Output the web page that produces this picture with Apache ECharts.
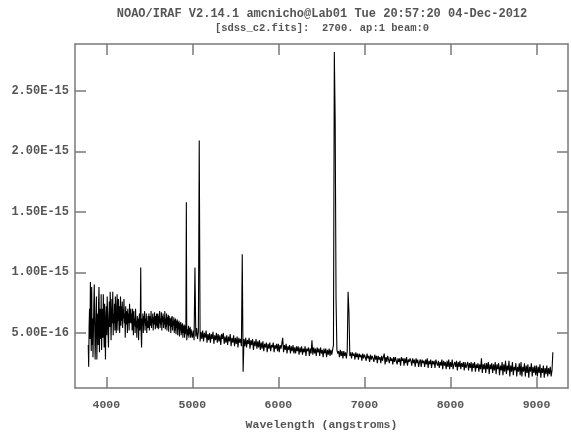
<!DOCTYPE html>
<html>
<head>
<meta charset="utf-8">
<script src="https://cdn.jsdelivr.net/npm/echarts@6/dist/echarts.min.js"></script>
<style>
html,body{margin:0;padding:0;background:#fff;}
#chart{width:571px;height:436px;}
</style>
</head>
<body>
<div id="chart"></div>
<script>
// Title lines
const titleLine1 = 'NOAO/IRAF V2.14.1 amcnicho@Lab01 Tue 20:57:20 04-Dec-2012';
const titleLine2 = '[sdss_c2.fits]:  2700. ap:1 beam:0';
const xAxisTitle = 'Wavelength (angstroms)';

// Blue part of the spectrum: 3790..4985 A, one sample every 5 A (flux in 1E-17 units)
const blueStart = 3790;
const blueStep = 5;
const fluxBlue = [
  40,22,55,70,45,92,60,35,88,40,62,30,50,74,90,58,28,45,66,80,
  28,52,66,40,75,88,34,60,70,45,82,36,55,70,46,82,60,38,74,60,
  28,58,72,48,80,66,50,38,62,76,55,84,70,44,60,78,58,84,48,66,
  58,74,52,80,70,50,60,82,70,52,78,60,72,50,68,80,56,72,60,76,
  54,70,62,78,58,66,46,72,57,68,64,50,70,58,66,52,74,58,62,70,
  58,66,52,70,64,48,68,56,62,50,70,55,60,46,64,54,62,44,58,66,
  52,60,104,48,38,62,56,66,50,64,58,68,52,62,56,66,50,60,54,64,
  54,66,52,60,64,56,68,54,62,58,66,52,63,57,67,61,53,64,56,66,
  54,62,66,53,64,58,68,54,62,57,67,52,64,59,66,54,63,57,68,53,
  62,55,66,52,63,57,65,51,64,56,62,58,50,63,55,64,52,60,56,63,
  50,61,52,62,49,60,54,61,48,59,53,60,47,58,52,59,48,57,50,58,
  46,56,50,57,46,56,49,55,158,44,50,53,48,56,46,54,49,55,46,53
];

// Red part of the spectrum: 4990..9190 A, one sample every 10 A (flux in 1E-17 units)
const redStart = 4990;
const redStep = 10;
const fluxRed = [
  53,46,52,44,104,47,54,45,51,209,43,51,45,52,43,50,46,52,42,49,
  44,50,42,49,45,51,41,48,44,50,42,49,43,48,40,49,45,50,41,47,
  42,48,40,47,43,49,39,46,42,48,39,46,41,47,38,46,42,45,39,115,
  18,45,39,46,38,44,41,46,37,44,40,45,36,43,39,45,37,43,38,44,
  36,42,37,43,35,41,38,42,34,41,37,42,35,40,38,42,34,40,37,41,
  35,41,34,40,37,41,46,34,40,36,41,33,39,36,40,33,39,35,40,33,
  38,33,39,35,39,32,38,34,39,32,37,34,39,31,37,35,38,31,37,33,
  44,32,38,33,37,31,38,34,37,31,38,33,36,30,37,33,37,30,36,32,
  37,31,36,32,36,40,282,225,78,36,33,35,30,36,31,35,29,35,31,34,
  29,35,84,67,31,34,29,34,31,33,28,34,30,33,28,33,30,32,27,33,
  29,32,30,27,33,29,31,26,32,28,31,29,26,32,28,31,25,31,28,30,
  25,31,27,30,33,24,30,26,31,28,25,30,27,29,24,30,26,30,27,24,
  29,26,29,23,30,27,29,23,29,25,30,23,28,26,29,27,23,29,25,28,
  22,29,25,28,22,26,28,22,28,25,27,22,28,24,29,21,27,24,28,21,
  27,24,27,21,28,25,23,27,21,26,23,28,20,27,23,26,20,27,22,28,
  20,26,22,28,20,24,26,22,27,19,26,22,27,20,25,22,26,19,26,21,
  21,26,19,25,21,26,18,25,21,26,18,24,21,25,18,24,20,29,17,24,
  20,25,17,25,20,26,16,24,20,25,17,24,19,26,16,24,20,25,15,23,
  19,26,15,24,18,27,16,23,19,27,14,23,18,26,15,22,19,25,14,22,
  18,25,15,26,14,22,18,25,14,23,17,24,13,22,18,25,14,22,17,23,
  15,23,14,22,17,24,13,21,17,23,13,21,16,23,14,21,16,22,14,19,34
];

// Axis ranges and tick values
const waveMin = 3636, waveMax = 9366;
const fluxMin = 4.5, fluxMax = 288.7;
const waveTicks = [4000, 5000, 6000, 7000, 8000, 9000];
const fluxTicks = [50, 100, 150, 200, 250];
const FLUX_UNIT = 1e-17;

const data = fluxBlue.map((v, i) => [blueStart + i * blueStep, v])
  .concat(fluxRed.map((v, i) => [redStart + i * redStep, v]));

const chart = echarts.init(document.getElementById('chart'), null, {renderer: 'canvas'});
const FONT = 'Liberation Mono';
const TXT = '#555';
const FRAME = '#7a7a7a';
const lineSt = {color: FRAME, width: 1.5};

function xAx(pos, showLabels) {
  return {
    type: 'value', position: pos, min: waveMin, max: waveMax,
    axisLine: {show: true, onZero: false, lineStyle: lineSt},
    axisTick: {show: true, inside: true, length: 11, customValues: waveTicks, lineStyle: lineSt},
    axisLabel: {show: showLabels, customValues: waveTicks, margin: 11, color: TXT, fontFamily: FONT,
      fontSize: 11.5, fontWeight: 'bold', formatter: v => String(v)},
    splitLine: {show: false},
    name: showLabels ? xAxisTitle : '',
    nameLocation: 'middle', nameGap: 31,
    nameTextStyle: {color: TXT, fontFamily: FONT, fontSize: 11.5, fontWeight: 'bold'}
  };
}
function yAx(pos, showLabels) {
  return {
    type: 'value', position: pos, min: fluxMin, max: fluxMax,
    axisLine: {show: true, onZero: false, lineStyle: lineSt},
    axisTick: {show: true, inside: true, length: 11, customValues: fluxTicks, lineStyle: lineSt},
    axisLabel: {show: showLabels, customValues: fluxTicks, margin: 6, color: TXT, fontFamily: FONT, fontSize: 12, fontWeight: 'bold',
      formatter: v => (v * FLUX_UNIT).toExponential(2).toUpperCase()},
    splitLine: {show: false}
  };
}

chart.setOption({
  animation: false,
  backgroundColor: '#fff',
  title: [
    {text: titleLine1, left: 317, top: 3, textAlign: 'center',
      textStyle: {color: TXT, fontFamily: FONT, fontSize: 12, fontWeight: 'bold'}},
    {text: titleLine2, left: 317, top: 18, textAlign: 'center',
      textStyle: {color: TXT, fontFamily: FONT, fontSize: 10.5, fontWeight: 'bold'}}
  ],
  grid: {left: 75, right: 3, top: 44, bottom: 42, containLabel: false},
  xAxis: [xAx('bottom', true), xAx('top', false)],
  yAxis: [yAx('left', true), yAx('right', false)],
  series: [{
    type: 'line', data: data, showSymbol: false, symbol: 'none',
    xAxisIndex: 0, yAxisIndex: 0, sampling: null,
    lineStyle: {color: '#000', width: 1.1}
  }]
});
</script>
</body>
</html>
